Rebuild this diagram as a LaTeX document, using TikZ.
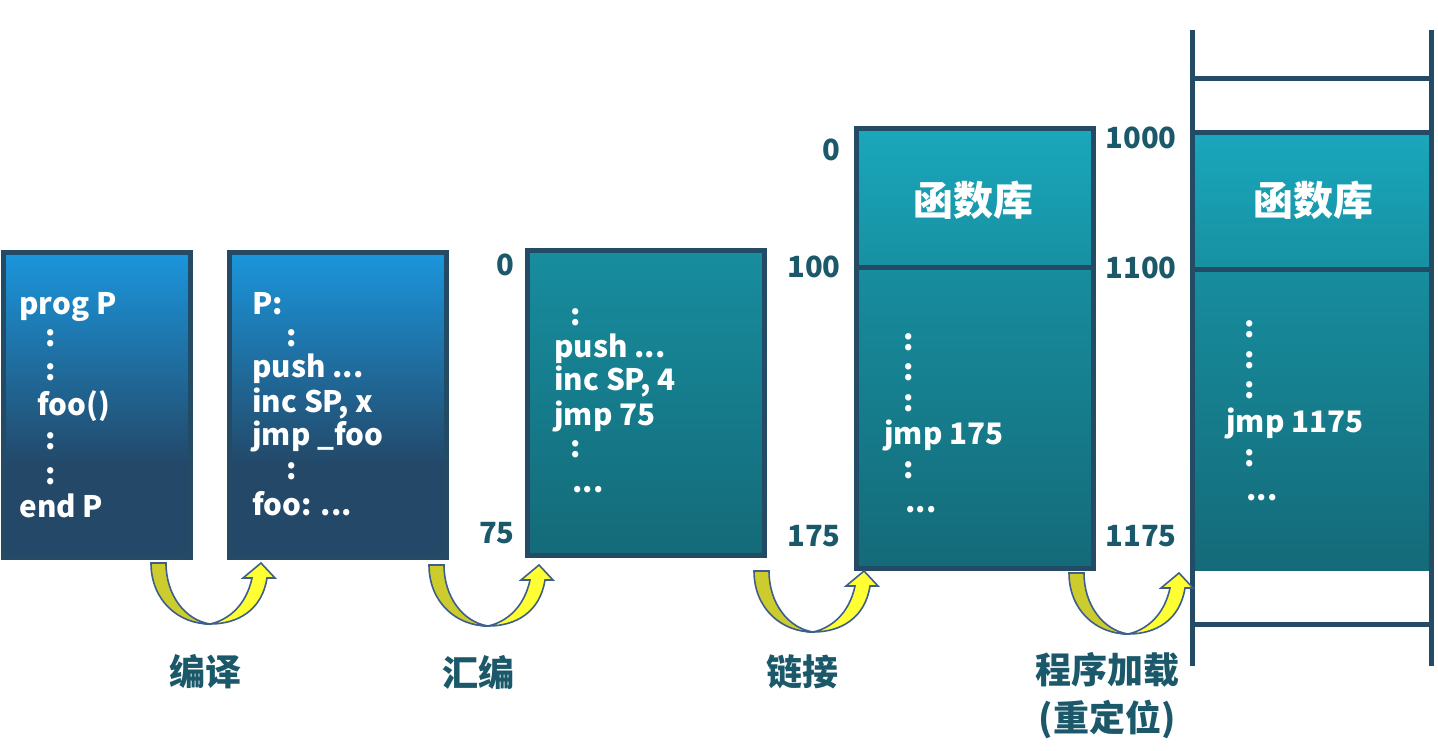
\documentclass[tikz,border=0pt]{standalone}
\usepackage{fontspec}
\setmainfont{Noto Sans CJK SC}
\usetikzlibrary{positioning}
\definecolor{rimc}{RGB}{35,75,102}
\definecolor{srctop}{RGB}{27,150,220}
\definecolor{srcbot}{RGB}{35,72,104}
\definecolor{objtop}{RGB}{23,141,158}
\definecolor{objbot}{RGB}{20,106,120}
\definecolor{libtop}{RGB}{26,167,188}
\definecolor{libbot}{RGB}{23,145,162}
\definecolor{inkc}{RGB}{26,88,106}
\definecolor{yellowl}{RGB}{204,204,46}
\definecolor{yellowr}{RGB}{255,255,51}
\definecolor{arrowrim}{RGB}{62,94,140}
\pgfdeclareverticalshading{srcshade}{100bp}{color(0bp)=(srcbot); color(40bp)=(srcbot); color(75bp)=(srctop); color(100bp)=(srctop)}
\newcommand{\codedots}{.{}.{}.}

\begin{document}
\begin{tikzpicture}[x=0.5pt, y=-0.5pt]
  %
% Styles
%
\tikzset{every node/.style={inner sep=0pt}};%
\tikzset{code/.style={text=white, anchor=base west, font=\bfseries\fontsize{14.8}{17}\selectfont}};%
\tikzset{addr/.style={text=inkc, anchor=base east, font=\bfseries\fontsize{14.6}{17}\selectfont}};%
\tikzset{stage/.style={text=inkc, font=\bfseries\fontsize{18}{20}\selectfont}};%
\tikzset{libname/.style={text=white, font=\bfseries\fontsize{20}{22}\selectfont}};%
\tikzset{srcbox/.style={shade, shading=srcshade, draw=rimc, line width=2.5pt}};%
\tikzset{objbox/.style={shade, top color=objtop, bottom color=objbot, draw=rimc, line width=2.5pt}};%
\tikzset{libbox/.style={shade, top color=libtop, bottom color=libbot, draw=rimc, line width=2.5pt}};%
\tikzset{memline/.style={draw=rimc, line width=2.5pt}};%
\tikzset{uturn/.pic={%
    \filldraw[draw=arrowrim, fill=yellowl, line width=0.8pt] (-59,-61) -- (-44,-61)
      .. controls (-44,-29) and (-25,-4) .. (0,0)
      .. controls (-32,0) and (-59,-24) .. (-59,-61) -- cycle;
    \filldraw[draw=arrowrim, fill=yellowr, line width=0.8pt] (0,0)
      .. controls (18,-4) and (36,-18) .. (42,-46) -- (33,-46) -- (51,-61) -- (65,-46) -- (57,-46)
      .. controls (52,-14) and (28,0) .. (0,0) -- cycle;}};%

\useasboundingbox (0,0) rectangle (1438,750);%

%
% Boxes
%
\path[srcbox] (3,252) rectangle (190,557);%
\path[srcbox] (229,252) rectangle (446,557);%
\path[objbox] (527,250) rectangle (764,555);%
\path[libbox] (856,128) rectangle (1093,267);%
\path[objbox] (856,267) rectangle (1093,568);%

% Memory after loading
\shade[top color=libtop, bottom color=libbot] (1192,132) rectangle (1431,269);%
\shade[top color=objtop, bottom color=objbot] (1192,269) rectangle (1431,570);%
\draw[memline] (1192,30) -- (1192,666);%
\draw[memline] (1431,30) -- (1431,666);%
\foreach \y in {78,132,269,624} \draw[memline] (1192,\y) -- (1431,\y);%

%
% Code lines
%
\foreach \x/\y/\txt [count=\i] in {19/314/prog P, 45/346/:, 45/380/:, 37/415/foo(), 45/449/:, 45/484/:, 19/517/end P}
  \node[code] (src-\i) at (\x,\y) {\txt};%
\foreach \x/\y/\txt [count=\i] in {252/314/P:, 286/346/:, 252/377/push \codedots, 252/412/{inc SP, x}, 252/445/jmp \_foo, 286/479/:, 252/515/foo: \codedots}
  \node[code] (asm-\i) at (\x,\y) {\txt};%
\foreach \x/\y/\txt [count=\i] in {570/325/:, 554/357/push \codedots, 554/390/{inc SP, 4}, 554/425/jmp 75, 570/457/:, 572/492/\codedots}
  \node[code] (obj-\i) at (\x,\y) {\txt};%
\foreach \x/\y/\txt [count=\i] in {903/350/:, 903/380/:, 903/411/:, 884/444/jmp 175, 903/478/:, 905/512/\codedots}
  \node[code] (exe-\i) at (\x,\y) {\txt};%
\foreach \x/\y/\txt [count=\i] in {1244/337/:, 1244/368/:, 1244/398/:, 1226/432/jmp 1175, 1244/466/:, 1246/500/\codedots}
  \node[code] (mem-\i) at (\x,\y) {\txt};%

\node[libname] (lib) at (973,200) {函数库};%
\node[libname] (libmem) at (1313,200) {函数库};%

%
% Addresses
%
\node[addr] (obj0) at (515,275) {0};%
\node[addr] (obj75) at (515,543) {75};%
\node[addr] (exe0) at (841,160) {0};%
\node[addr] (exe100) at (841,277) {100};%
\node[addr] (exe175) at (841,546) {175};%
\node[addr] (mem1000) at (1177,148) {1000};%
\node[addr] (mem1100) at (1177,278) {1100};%
\node[addr] (mem1175) at (1177,546) {1175};%

%
% Stages
%
\foreach \x/\y in {210/624, 488/626, 813/632, 1128/634} \pic at (\x,\y) {uturn};%
\node[stage] (compile) at (205,672) {编译};%
\node[stage] (assemble) at (478,672) {汇编};%
\node[stage] (link) at (802,672) {链接};%
\node[stage] (load) at (1107,670) {程序加载};%
\node[stage, below=6pt of load] (reloc) {(重定位)};%
\end{tikzpicture}
\end{document}
